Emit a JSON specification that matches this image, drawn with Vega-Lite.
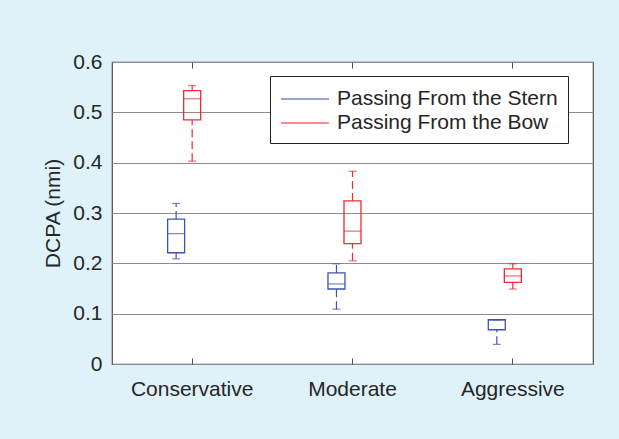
{
  "$schema": "https://vega.github.io/schema/vega-lite/v6.json",
  "width": 481,
  "height": 302,
  "autosize": {"type": "none"},
  "padding": {"left": 112, "top": 62, "right": 26, "bottom": 75},
  "background": "#dff2fa",
  "config": {
    "font": "Liberation Sans",
    "view": {"fill": "white", "stroke": "#4d4d4d", "strokeWidth": 1.2},
    "axis": {
      "labelFont": "Liberation Sans",
      "titleFont": "Liberation Sans",
      "labelFontSize": 21,
      "titleFontSize": 21,
      "labelColor": "#262626",
      "titleColor": "#262626",
      "titleFontWeight": "normal",
      "tickColor": "#4d4d4d",
      "domain": false
    },
    "legend": {"labelFont": "Liberation Sans"}
  },
  "data": {
    "values": [
      {"strategy": "Conservative", "series": "Passing From the Stern", "lower": 0.209, "q1": 0.221, "median": 0.259, "q3": 0.288, "upper": 0.319},
      {"strategy": "Conservative", "series": "Passing From the Bow", "lower": 0.403, "q1": 0.485, "median": 0.527, "q3": 0.543, "upper": 0.553},
      {"strategy": "Moderate", "series": "Passing From the Stern", "lower": 0.109, "q1": 0.149, "median": 0.159, "q3": 0.181, "upper": 0.199},
      {"strategy": "Moderate", "series": "Passing From the Bow", "lower": 0.205, "q1": 0.239, "median": 0.264, "q3": 0.324, "upper": 0.383},
      {"strategy": "Aggressive", "series": "Passing From the Stern", "lower": 0.039, "q1": 0.068, "median": 0.087, "q3": 0.088, "upper": 0.088},
      {"strategy": "Aggressive", "series": "Passing From the Bow", "lower": 0.149, "q1": 0.162, "median": 0.175, "q3": 0.189, "upper": 0.199}
    ]
  },
  "encoding": {
    "x": {
      "field": "strategy",
      "type": "nominal",
      "sort": ["Conservative", "Moderate", "Aggressive"],
      "scale": {"paddingInner": 0, "paddingOuter": 0},
      "title": null,
      "axis": null
    },
    "xOffset": {
      "field": "series",
      "type": "nominal",
      "scale": {"domain": ["s0", "s1", "s2", "Passing From the Stern", "Passing From the Bow", "s5", "s6", "s7", "s8"], "paddingInner": 0, "paddingOuter": 0.5}
    },
    "color": {
      "field": "series",
      "type": "nominal",
      "scale": {"domain": ["Passing From the Stern", "Passing From the Bow"], "range": ["#3e52b4", "#ee2a33"]},
      "legend": {
        "orient": "none",
        "legendX": 158,
        "legendY": 14,
        "title": null,
        "symbolType": "M-1,0H3",
        "symbolSize": 576,
        "symbolStrokeWidth": 1.3,
        "labelFontSize": 21,
        "labelColor": "#262626",
        "labelLimit": 500,
        "labelOffset": 31,
        "padding": 10,
        "rowPadding": 1,
        "strokeColor": "#222222",
        "fillColor": "white"
      }
    }
  },
  "resolve": {"axis": {"x": "independent"}},
  "layer": [
    {
      "mark": {"type": "rule", "strokeDash": [8, 4], "strokeWidth": 1.2},
      "encoding": {
        "x": {
          "field": "strategy", "type": "nominal", "sort": ["Conservative", "Moderate", "Aggressive"], "title": null,
          "axis": {"orient": "bottom", "labelAngle": 0, "ticks": true, "tickSize": -6, "labelPadding": 20, "grid": false}
        },
        "y": {
          "field": "q3",
          "type": "quantitative",
          "scale": {"domain": [0, 0.6], "nice": false},
          "title": "DCPA (nmi)",
          "axis": {"values": [0, 0.1, 0.2, 0.3, 0.4, 0.5, 0.6], "format": ".1~f", "ticks": false, "labelPadding": 10, "titlePadding": 9, "grid": true, "gridColor": "#8c8c8c", "gridWidth": 1, "gridOpacity": 1}
        },
        "y2": {"field": "upper"}
      }
    },
    {
      "mark": {"type": "rule", "strokeDash": [8, 4], "strokeWidth": 1.2},
      "encoding": {
        "x": {
          "field": "strategy", "type": "nominal", "sort": ["Conservative", "Moderate", "Aggressive"], "title": null,
          "axis": {"orient": "top", "labels": false, "ticks": true, "tickSize": -6, "grid": false}
        },
        "y": {"field": "lower", "type": "quantitative"},
        "y2": {"field": "q1"}
      }
    },
    {
      "mark": {"type": "tick", "orient": "horizontal", "size": 8, "thickness": 1.2},
      "encoding": {"y": {"field": "upper", "type": "quantitative"}}
    },
    {
      "mark": {"type": "tick", "orient": "horizontal", "size": 8, "thickness": 1.2},
      "encoding": {"y": {"field": "lower", "type": "quantitative"}}
    },
    {
      "mark": {"type": "bar", "filled": false, "width": 17, "strokeWidth": 1.3},
      "encoding": {"y": {"field": "q1", "type": "quantitative"}, "y2": {"field": "q3"}}
    },
    {
      "mark": {"type": "tick", "orient": "horizontal", "size": 17, "thickness": 1.2},
      "encoding": {"y": {"field": "median", "type": "quantitative"}}
    }
  ]
}
